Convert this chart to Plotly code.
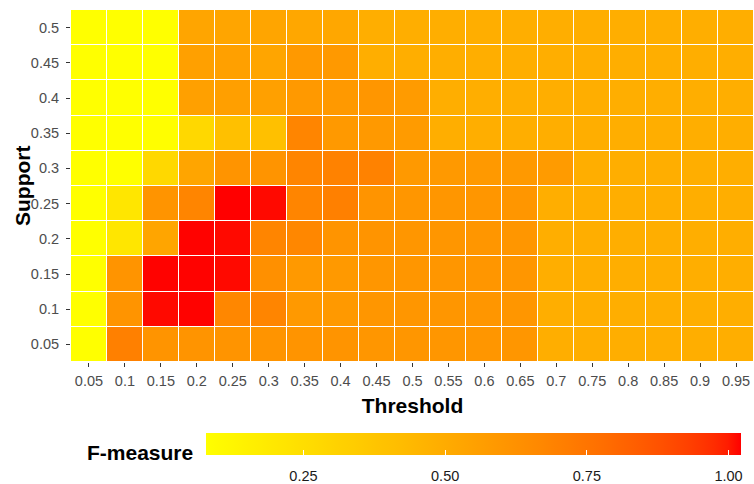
import numpy as np
import plotly.graph_objects as go

# Grid axes
thresholds = ["0.05", "0.1", "0.15", "0.2", "0.25", "0.3", "0.35", "0.4", "0.45", "0.5",
              "0.55", "0.6", "0.65", "0.7", "0.75", "0.8", "0.85", "0.9", "0.95"]
supports = ["0.05", "0.1", "0.15", "0.2", "0.25", "0.3", "0.35", "0.4", "0.45", "0.5"]

# F-measure per support level (one list per row, one value per threshold)
f_s005 = [0.078, 0.70, 0.61, 0.61, 0.61, 0.61, 0.61, 0.61, 0.60, 0.60, 0.60, 0.60, 0.60, 0.49, 0.49, 0.49, 0.49, 0.49, 0.49]
f_s010 = [0.078, 0.61, 1.015, 1.02, 0.67, 0.68, 0.59, 0.59, 0.60, 0.60, 0.60, 0.60, 0.60, 0.49, 0.49, 0.49, 0.49, 0.49, 0.49]
f_s015 = [0.078, 0.61, 1.02, 1.02, 1.015, 0.63, 0.59, 0.59, 0.60, 0.60, 0.60, 0.60, 0.60, 0.49, 0.49, 0.49, 0.49, 0.49, 0.49]
f_s020 = [0.078, 0.205, 0.53, 1.02, 1.015, 0.68, 0.67, 0.61, 0.61, 0.60, 0.60, 0.60, 0.60, 0.49, 0.49, 0.49, 0.49, 0.49, 0.49]
f_s025 = [0.078, 0.205, 0.61, 0.68, 1.022, 1.015, 0.68, 0.70, 0.61, 0.60, 0.60, 0.60, 0.60, 0.49, 0.49, 0.49, 0.49, 0.49, 0.49]
f_s030 = [0.078, 0.078, 0.28, 0.53, 0.61, 0.61, 0.68, 0.69, 0.69, 0.59, 0.59, 0.59, 0.59, 0.58, 0.49, 0.49, 0.49, 0.49, 0.49]
f_s035 = [0.078, 0.078, 0.085, 0.28, 0.40, 0.40, 0.68, 0.59, 0.59, 0.58, 0.49, 0.49, 0.49, 0.49, 0.49, 0.49, 0.49, 0.49, 0.49]
f_s040 = [0.078, 0.078, 0.078, 0.555, 0.56, 0.555, 0.59, 0.59, 0.60, 0.58, 0.49, 0.49, 0.49, 0.49, 0.49, 0.49, 0.49, 0.49, 0.49]
f_s045 = [0.078, 0.078, 0.078, 0.555, 0.555, 0.53, 0.59, 0.59, 0.49, 0.49, 0.49, 0.49, 0.49, 0.49, 0.49, 0.49, 0.49, 0.49, 0.49]
f_s050 = [0.078, 0.078, 0.078, 0.53, 0.53, 0.53, 0.52, 0.52, 0.49, 0.49, 0.49, 0.49, 0.49, 0.49, 0.49, 0.49, 0.49, 0.49, 0.49]

z = [f_s005, f_s010, f_s015, f_s020, f_s025, f_s030, f_s035, f_s040, f_s045, f_s050]

colorbar_ticks = [0.25, 0.50, 0.75, 1.00]
colorbar_ticktext = ["0.25", "0.50", "0.75", "1.00"]


# Yellow -> red gradient interpolated in CIELAB space
def srgb_to_lab(rgb):
    c = np.array(rgb, dtype=float) / 255.0
    lin = np.where(c <= 0.04045, c / 12.92, ((c + 0.055) / 1.055) ** 2.4)
    m = np.array([[0.4124, 0.3576, 0.1805],
                  [0.2126, 0.7152, 0.0722],
                  [0.0193, 0.1192, 0.9505]])
    xyz = m @ lin / np.array([0.95047, 1.0, 1.08883])
    f = np.where(xyz > 0.008856, np.cbrt(xyz), 7.787 * xyz + 16 / 116)
    return np.array([116 * f[1] - 16, 500 * (f[0] - f[1]), 200 * (f[1] - f[2])])


def lab_to_srgb(lab):
    L, a, b = lab
    fy = (L + 16) / 116
    fx = fy + a / 500
    fz = fy - b / 200
    f = np.array([fx, fy, fz])
    xyz = np.where(f ** 3 > 0.008856, f ** 3, (f - 16 / 116) / 7.787)
    xyz = xyz * np.array([0.95047, 1.0, 1.08883])
    m = np.array([[3.2406, -1.5372, -0.4986],
                  [-0.9689, 1.8758, 0.0415],
                  [0.0557, -0.2040, 1.0570]])
    lin = np.clip(m @ xyz, 0, 1)
    c = np.where(lin <= 0.0031308, 12.92 * lin, 1.055 * lin ** (1 / 2.4) - 0.055)
    return tuple(int(round(v * 255)) for v in np.clip(c, 0, 1))


lab_lo = srgb_to_lab((255, 255, 0))
lab_hi = srgb_to_lab((255, 0, 0))
colorscale = []
for t in np.linspace(0, 1, 41):
    r, g, b = lab_to_srgb(lab_lo + (lab_hi - lab_lo) * t)
    colorscale.append([float(t), f"rgb({r},{g},{b})"])

FONT = "Liberation Sans, Arial, sans-serif"

# Figure geometry (pixels)
W, H = 754, 484
ML, MR, MT, MB = 71, 0, 10, 115
PW, PH = W - ML - MR, H - MT - MB
bar_left, bar_right, bar_top, bar_h = 206, 741, 441, 22
bar_x = ((bar_left + bar_right) / 2 - ML) / PW
bar_y = (MT + PH - bar_top) / PH

common_cb = dict(
    orientation="h", thickness=bar_h, lenmode="pixels", len=bar_right - bar_left,
    x=bar_x, xanchor="center", y=bar_y, yanchor="top", xpad=0, ypad=0,
    outlinewidth=0, tickvals=colorbar_ticks, ticktext=colorbar_ticktext,
)

# Labelled colour bar (tick marks hidden, only used to offset the labels)
cb_labels = dict(common_cb, ticks="outside", ticklen=9, tickcolor="rgba(0,0,0,0)",
                 tickfont=dict(family=FONT, size=14.5, color="#1a1a1a"))
# White tick marks on the bottom and top edges of the bar
cb_bottom = dict(common_cb, ticks="inside", ticklen=5, tickwidth=1.2, tickcolor="white",
                 showticklabels=False)
cb_top = dict(common_cb, ticks="inside", ticklen=5, tickwidth=1.2, tickcolor="white",
              showticklabels=False, ticklabelposition="outside top")

fig = go.Figure()
for i, cb in enumerate([cb_labels, cb_bottom, cb_top]):
    fig.add_trace(go.Heatmap(
        x=thresholds, y=supports, z=z,
        colorscale=colorscale, xgap=1, ygap=1,
        colorbar=cb, showscale=True,
        hoverinfo="x+y+z" if i == 0 else "skip",
    ))

axis_common = dict(
    type="category", showgrid=False, zeroline=False, showline=False,
    ticks="outside", ticklen=4, tickwidth=1, tickcolor="#333333",
    tickfont=dict(family=FONT, size=14.5, color="#4D4D4D"),
)

title_font = dict(family=FONT, size=21, color="black")

fig.update_layout(
    width=W, height=H,
    margin=dict(l=ML, r=MR, t=MT, b=MB, pad=0),
    plot_bgcolor="white", paper_bgcolor="white",
    font=dict(family=FONT),
    xaxis=dict(axis_common, ticklabelstandoff=2,
               title=dict(text="<b>Threshold</b>", standoff=9, font=title_font)),
    yaxis=dict(axis_common, ticklabelstandoff=4),
    annotations=[
        dict(text="<b>Support</b>", xref="paper", yref="paper",
             x=(22 - ML) / PW, y=0.5, textangle=-90,
             xanchor="center", yanchor="middle", showarrow=False, font=title_font),
        dict(text="<b>F-measure</b>", xref="paper", yref="paper",
             x=(140 - ML) / PW, y=(MT + PH - 461) / PH,
             xanchor="center", yanchor="middle", showarrow=False, font=title_font),
    ],
)

fig.write_html("out.html")
